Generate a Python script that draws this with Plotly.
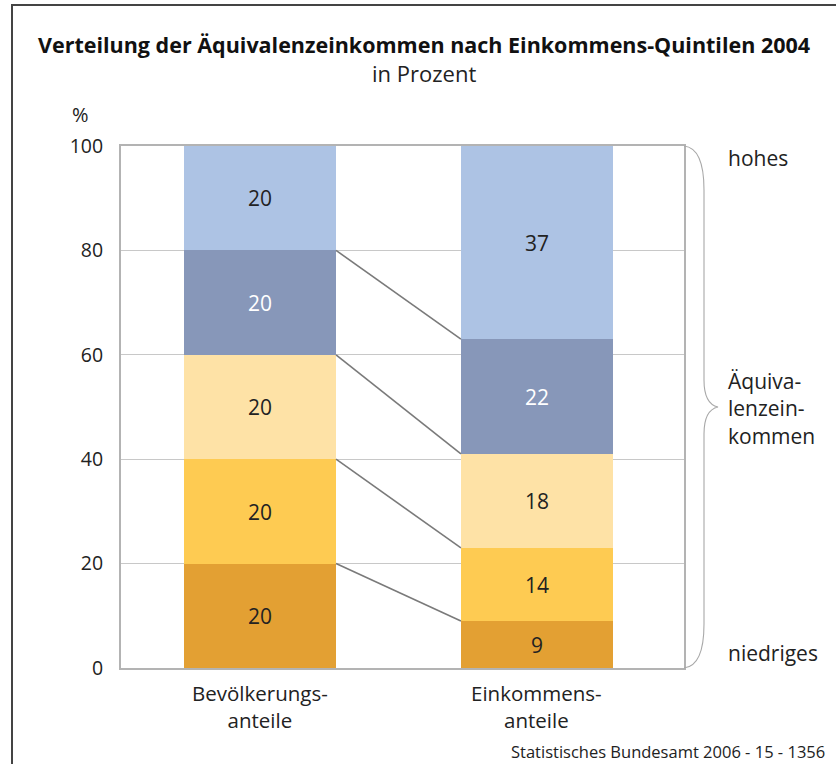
import plotly.graph_objects as go
import numpy as np

categories = ["Bevölkerungs-<br>anteile", "Einkommens-<br>anteile"]
quintiles = ["1. Quintil", "2. Quintil", "3. Quintil", "4. Quintil", "5. Quintil"]
bevoelkerung = [20, 20, 20, 20, 20]
einkommen = [9, 14, 18, 22, 37]
colors = ["#e3a033", "#fecb52", "#fee2a6", "#8797b9", "#adc3e4"]
text_colors = ["#222222", "#222222", "#222222", "#ffffff", "#222222"]
yticks = [0, 20, 40, 60, 80, 100]

FONT = "Open Sans"
W, H = 836, 764
L, R, T, B = 121, 684, 146, 668
bar_w = 0.549
xs = [0, 1]

fig = go.Figure()
for i, q in enumerate(quintiles):
    fig.add_trace(go.Bar(
        x=xs, y=[bevoelkerung[i], einkommen[i]], name=q, width=bar_w,
        marker=dict(color=colors[i], line=dict(width=0)),
        text=[str(bevoelkerung[i]), str(einkommen[i])],
        textposition="inside", insidetextanchor="middle", textangle=0,
        textfont=dict(family=FONT, size=21, color=text_colors[i]),
        constraintext="none", showlegend=False, hoverinfo="skip"))

cum_b = np.cumsum(bevoelkerung)
cum_e = np.cumsum(einkommen)
for k in range(len(quintiles) - 1):
    fig.add_trace(go.Scatter(
        x=[xs[0] + bar_w / 2, xs[1] - bar_w / 2], y=[cum_b[k], cum_e[k]],
        mode="lines", line=dict(color="#7a7a7a", width=1.6),
        showlegend=False, hoverinfo="skip"))

def px_x(p):
    return (p - L) / (R - L)

def px_y(p):
    return (B - p) / (B - T)

shapes = []
# outer frame
shapes.append(dict(type="rect", xref="paper", yref="paper",
                   x0=px_x(12), x1=px_x(900), y0=px_y(5), y1=px_y(800),
                   line=dict(color="#444444", width=2), layer="above"))
# brace
bx0, bx1, bxp = px_x(684), px_x(704), px_x(718)
path = (f"M {bx0},{px_y(146)} "
        f"Q {bx1},{px_y(148)} {bx1},{px_y(190)} "
        f"L {bx1},{px_y(380)} "
        f"Q {bx1},{px_y(404)} {bxp},{px_y(407)} "
        f"Q {bx1},{px_y(410)} {bx1},{px_y(434)} "
        f"L {bx1},{px_y(624)} "
        f"Q {bx1},{px_y(666)} {bx0},{px_y(668)}")
shapes.append(dict(type="path", xref="paper", yref="paper", path=path,
                   line=dict(color="#a8a8a8", width=1.1)))

annotations = []
for x, c in zip(xs, categories):
    annotations.append(dict(x=x, xref="x", y=px_y(677), yref="paper",
                            text=c, showarrow=False, yanchor="top",
                            font=dict(family=FONT, size=20.5, color="#222222")))
annotations += [
    dict(x=px_x(80), y=px_y(115), xref="paper", yref="paper", text="%",
         showarrow=False, xanchor="center", yanchor="middle",
         font=dict(family=FONT, size=20, color="#222222")),
    dict(x=px_x(726), y=px_y(158), xref="paper", yref="paper", text="hohes",
         showarrow=False, xanchor="left", yanchor="middle",
         font=dict(family=FONT, size=21, color="#222222")),
    dict(x=px_x(726), y=px_y(408), xref="paper", yref="paper",
         text="Äquiva-<br>lenzein-<br>kommen", align="left",
         showarrow=False, xanchor="left", yanchor="middle",
         font=dict(family=FONT, size=21, color="#222222")),
    dict(x=px_x(726), y=px_y(653), xref="paper", yref="paper", text="niedriges",
         showarrow=False, xanchor="left", yanchor="middle",
         font=dict(family=FONT, size=21, color="#222222")),
    dict(x=px_x(827), y=px_y(751), xref="paper", yref="paper",
         text="Statistisches Bundesamt 2006 - 15 - 1356",
         showarrow=False, xanchor="right", yanchor="middle",
         font=dict(family=FONT, size=16.5, color="#222222")),
    dict(x=px_x(424), y=px_y(45), xref="paper", yref="paper",
         text="<b>Verteilung der Äquivalenzeinkommen nach Einkommens-Quintilen 2004</b>",
         showarrow=False, xanchor="center", yanchor="middle",
         font=dict(family=FONT, size=21.5, color="#111111")),
    dict(x=px_x(424), y=px_y(73), xref="paper", yref="paper", text="in Prozent",
         showarrow=False, xanchor="center", yanchor="middle",
         font=dict(family=FONT, size=22, color="#222222")),
]

fig.update_layout(
    width=W, height=H, barmode="stack", bargap=0,
    margin=dict(l=L, r=W - R, t=T, b=H - B, pad=0),
    paper_bgcolor="white", plot_bgcolor="white",
    shapes=shapes, annotations=annotations,
    xaxis=dict(range=[-0.502, 1.531], showticklabels=False, showgrid=False,
               zeroline=False, showline=True, mirror=True,
               linecolor="#b3b3b3", linewidth=2, fixedrange=True),
    yaxis=dict(range=[0, 100], tickvals=yticks, showgrid=True,
               gridcolor="#c8c8c8", gridwidth=1, zeroline=False,
               showline=True, mirror=True, linecolor="#b3b3b3", linewidth=2,
               ticks="", ticklabelstandoff=12, fixedrange=True,
               tickfont=dict(family=FONT, size=19.5, color="#222222")),
)

fig.write_html("out.html", config={"displayModeBar": False},
               post_script="document.body.style.margin='0';document.body.style.overflow='hidden';")
